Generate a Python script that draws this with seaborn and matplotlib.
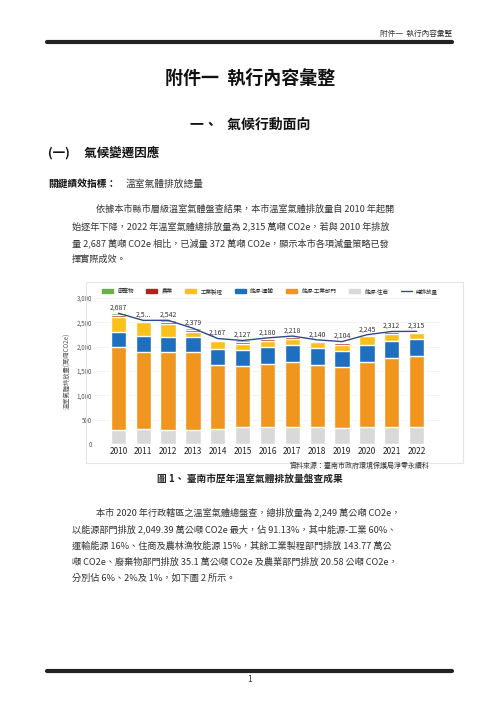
import numpy as np
import matplotlib
matplotlib.use("Agg")
import matplotlib.pyplot as plt
import seaborn as sns
from matplotlib.patches import Patch
from matplotlib.lines import Line2D

sns.set_theme(style="white")
plt.rcParams['font.family'] = ['Noto Sans CJK TC', 'DejaVu Sans']

years = ["2010","2011","2012","2013","2014","2015","2016","2017","2018","2019","2020","2021","2022"]
residential = [295, 300, 295, 290, 300, 340, 350, 355, 340, 325, 340, 345, 345]
industry_energy = [1690, 1584, 1589, 1594, 1330, 1270, 1294, 1323, 1283, 1264, 1352, 1429, 1456]
transport = [322, 328, 308, 308, 322, 328, 342, 356, 343, 329, 349, 342, 357]
process = [295, 288, 274, 116, 171, 117, 137, 124, 123, 123, 171, 144, 116]
agriculture = [40, 25, 40, 30, 22, 40, 35, 40, 35, 40, 20, 35, 25]
waste = [45, 15, 36, 41, 22, 32, 22, 20, 16, 23, 13, 17, 16]
totals = [2687, 2540, 2542, 2379, 2167, 2127, 2180, 2218, 2140, 2104, 2245, 2312, 2315]
total_labels = ["2,687", "2,5...", "2,542", "2,379", "2,167", "2,127", "2,180", "2,218", "2,140", "2,104", "2,245", "2,312", "2,315"]
yticks = [0, 500, 1000, 1500, 2000, 2500, 3000]

layers = [("能源-住商", residential, "#d9d9d9"),
          ("能源-工業部門", industry_energy, "#f0961e"),
          ("能源-運輸", transport, "#1f6fbf"),
          ("工業製程", process, "#fbc11b"),
          ("農業", agriculture, "#b52020"),
          ("廢棄物", waste, "#6ab04c")]

fig = plt.figure(figsize=(5, 7.07), dpi=100)
H = 707.0
def fy(y): return 1 - y / H
def fx(x): return x / 500.0

fig.text(fx(452), fy(34), "附件一  執行內容彙整", ha="right", va="center", fontsize=5.5, color="#333")
fig.add_artist(Line2D([fx(47), fx(452)], [fy(42), fy(42)], color="#222", lw=3))
fig.text(0.5, fy(78), "附件一  執行內容彙整", ha="center", va="center", fontsize=13, fontweight="bold", color="#111")
fig.text(0.5, fy(125), "一、   氣候行動面向", ha="center", va="center", fontsize=10, fontweight="bold", color="#111")
fig.text(fx(48), fy(153), "(一)     氣候變遷因應", ha="left", va="center", fontsize=9, fontweight="bold", color="#111")
fig.text(fx(48), fy(184), "關鍵績效指標：", ha="left", va="center", fontsize=7, fontweight="bold", color="#111")
fig.text(fx(126), fy(184), "溫室氣體排放總量", ha="left", va="center", fontsize=7, color="#333")

para1 = [(96, 209, "依據本市縣市層級溫室氣體盤查結果，本市溫室氣體排放量自 2010 年起開"),
         (72, 226, "始逐年下降，2022 年溫室氣體總排放量為 2,315 萬噸 CO2e，若與 2010 年排放"),
         (72, 243, "量 2,687 萬噸 CO2e 相比，已減量 372 萬噸 CO2e，顯示本市各項減量策略已發"),
         (72, 259, "揮實際成效。")]
for x, y, t in para1:
    fig.text(fx(x), fy(y), t, ha="left", va="center", fontsize=6.6, color="#333")

fig.add_artist(plt.Rectangle((fx(86), fy(463)), fx(463) - fx(86), fy(282) - fy(463),
                             fill=False, edgecolor="#e5e5e5", lw=0.8))

ax = fig.add_axes([fx(95), fy(444), fx(440) - fx(95), fy(298) - fy(444)])
cum = np.cumsum([np.array(v) for _, v, _ in layers], axis=0)
for i in range(len(layers) - 1, -1, -1):
    sns.barplot(x=years, y=cum[i], color=layers[i][2], ax=ax, width=0.62, saturation=1, zorder=3 + (5 - i) * 0.01)
sns.lineplot(x=np.arange(len(years)), y=totals, ax=ax, color="#2e4a8a", lw=1, zorder=5)
for i, (t, lab) in enumerate(zip(totals, total_labels)):
    ax.text(i, t + 30, lab, ha="center", va="bottom", fontsize=5, color="#333", zorder=6)
ax.set_ylim(0, 3000)
ax.set_yticks(yticks)
ax.set_yticklabels([f"{v:,}" for v in yticks], fontsize=4.5, color="#555")
ax.tick_params(axis="x", labelsize=6, colors="#222", length=0, pad=2)
ax.tick_params(axis="y", length=0, pad=2)
ax.yaxis.grid(True, color="#eeeeee", lw=0.5)
ax.set_axisbelow(True)
for s in ax.spines.values():
    s.set_visible(False)
ax.set_xlabel("")
ax.set_ylabel("溫室氣體排放量(萬噸CO2e)", fontsize=4.5, color="#555", labelpad=4)
handles = [Patch(color=layers[5][2], label="廢棄物"), Patch(color=layers[4][2], label="農業"),
           Patch(color=layers[3][2], label="工業製程"), Patch(color=layers[2][2], label="能源-運輸"),
           Patch(color=layers[1][2], label="能源-工業部門"), Patch(color=layers[0][2], label="能源-住商"),
           Line2D([0], [0], color="#2e4a8a", lw=1, label="總排放量")]
fig.legend(handles=handles, loc="center", bbox_to_anchor=(0.54, fy(291)), ncol=7, frameon=False,
           fontsize=4, handlelength=2, handleheight=0.6, columnspacing=2.2)

fig.text(fx(430), fy(466), "資料來源：臺南市政府環境保護局淨零永續科", ha="right", va="center", fontsize=5, color="#333")
fig.text(0.5, fy(479), "圖 1、 臺南市歷年溫室氣體排放量盤查成果", ha="center", va="center", fontsize=7, fontweight="bold", color="#222")

para2 = [(96, 512, "本市 2020 年行政轄區之溫室氣體總盤查，總排放量為 2,249 萬公噸 CO2e，"),
         (72, 529, "以能源部門排放 2,049.39 萬公噸 CO2e 最大，佔 91.13%，其中能源-工業 60%、"),
         (72, 546, "運輸能源 16%、住商及農林漁牧能源 15%，其餘工業製程部門排放 143.77 萬公"),
         (72, 562, "噸 CO2e、廢棄物部門排放 35.1 萬公噸 CO2e 及農業部門排放 20.58 公噸 CO2e，"),
         (72, 578, "分別佔 6%、2%及 1%，如下圖 2 所示。")]
for x, y, t in para2:
    fig.text(fx(x), fy(y), t, ha="left", va="center", fontsize=6.6, color="#333")

fig.add_artist(Line2D([fx(47), fx(452)], [fy(671), fy(671)], color="#222", lw=3))
fig.text(0.5, fy(680), "1", ha="center", va="center", fontsize=6, color="#333")

fig.savefig("out.png", dpi=100, facecolor="white")
